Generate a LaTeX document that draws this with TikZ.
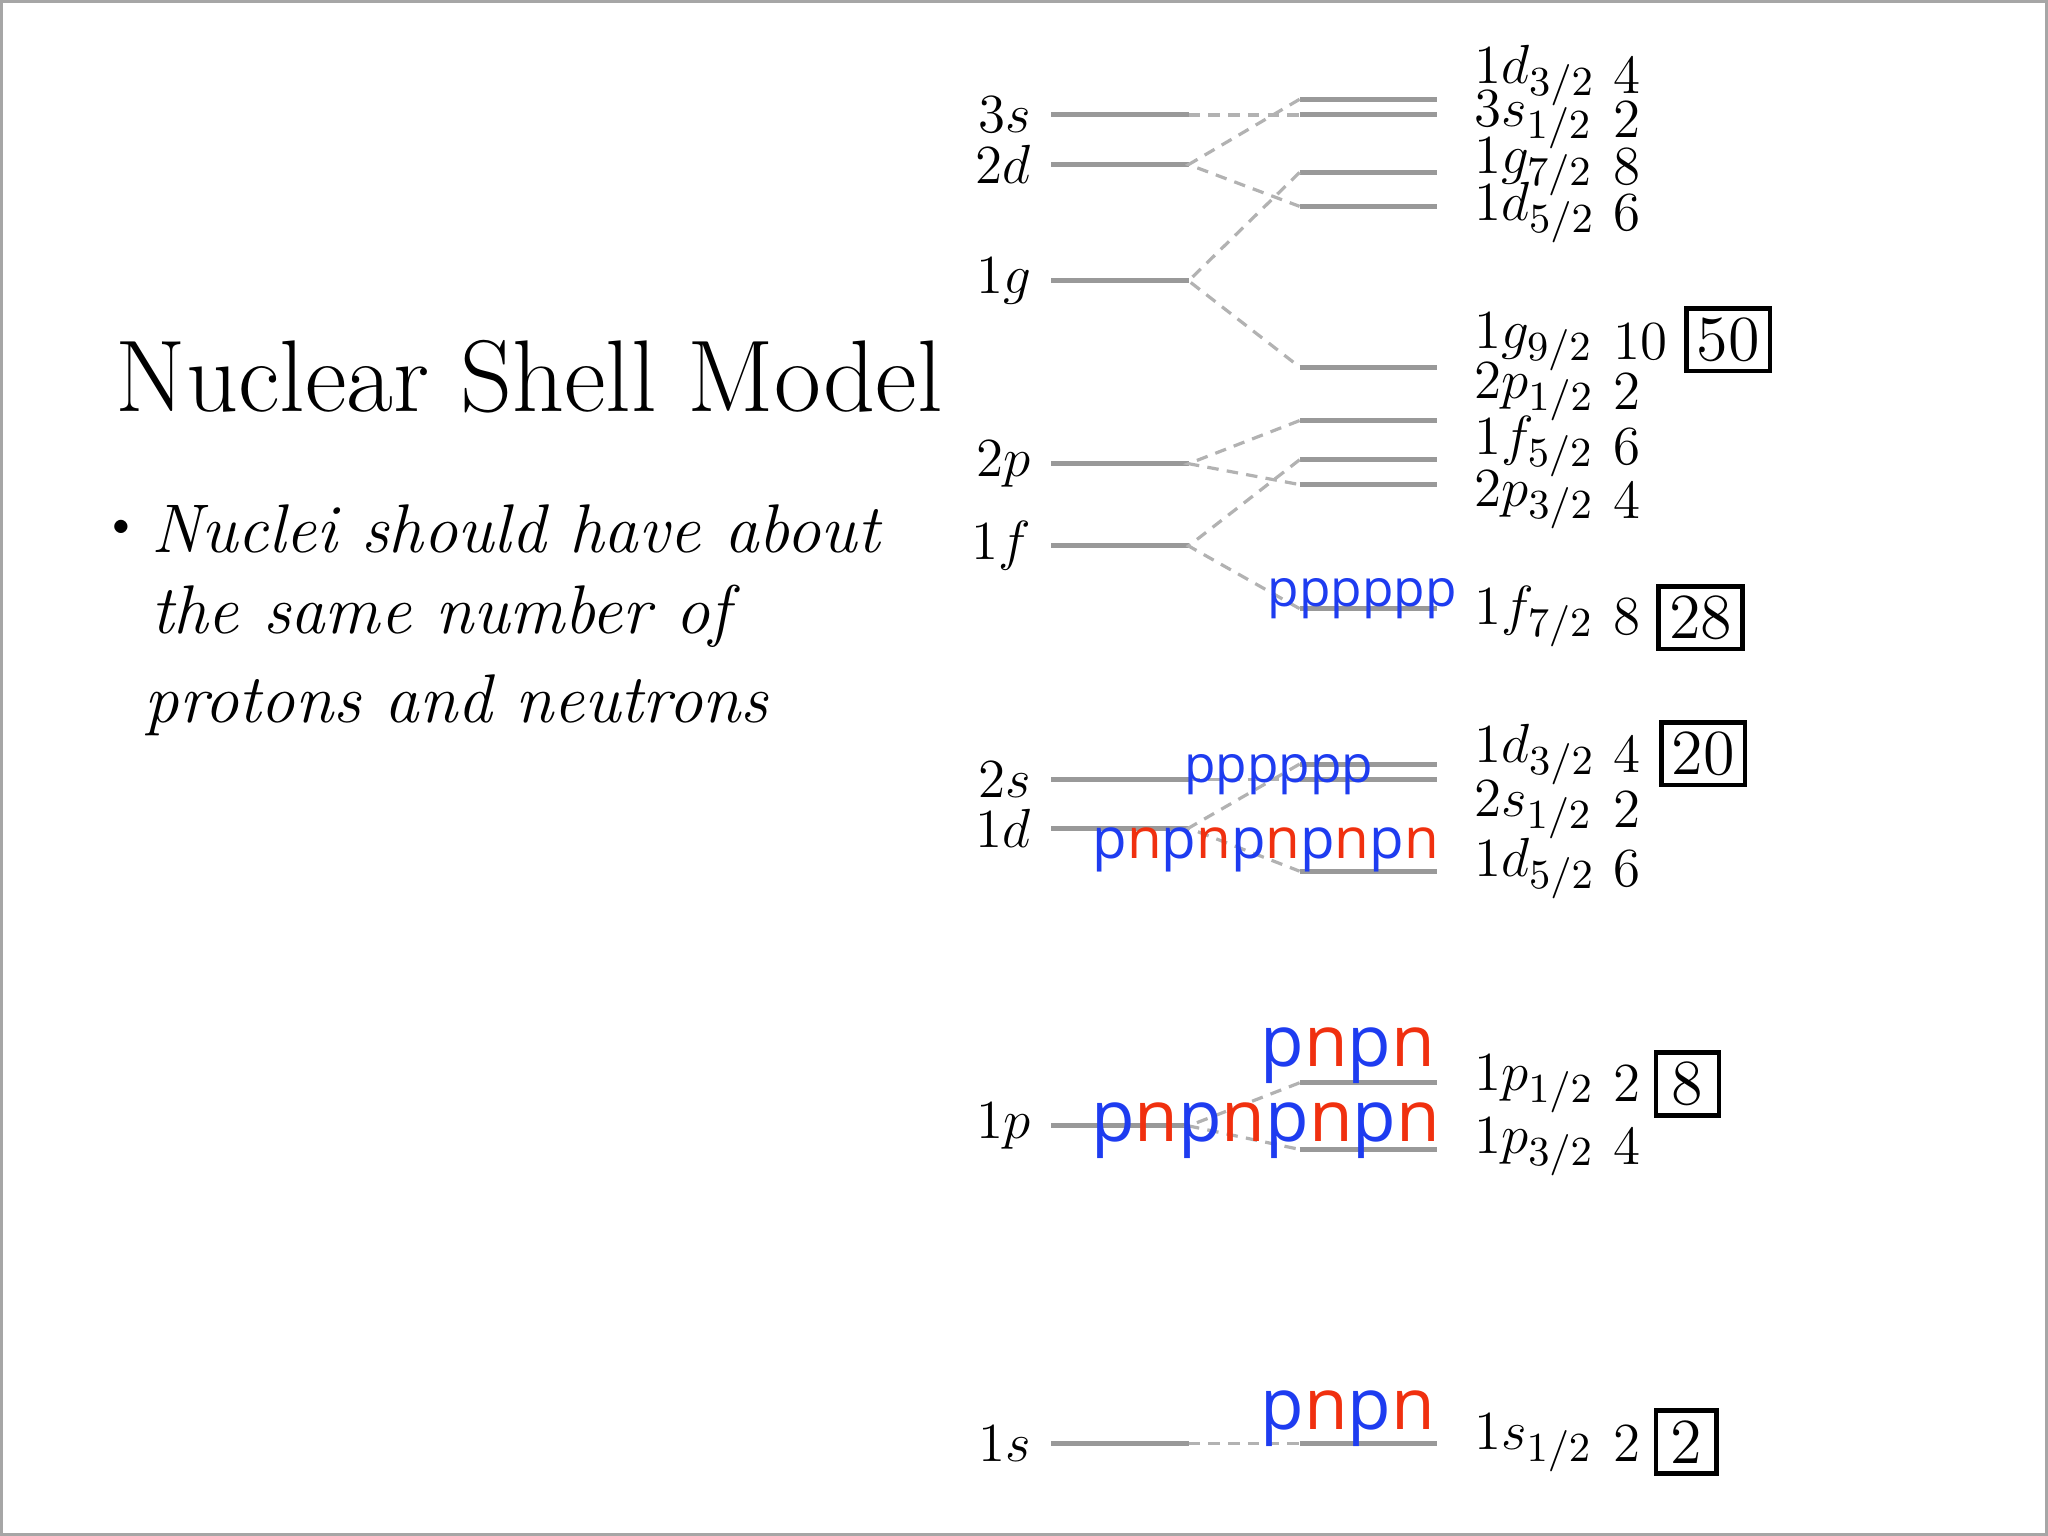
\documentclass[tikz,border=0pt]{standalone}
\usepackage{fontspec}
\newfontfamily\pnfont{Open Sans}
\definecolor{pblue}{HTML}{1E3CF0}
\definecolor{nred}{HTML}{F0300F}
\tikzset{
  level/.style={gray!80,line width=1.1pt},
  split/.style={gray!60,dash pattern=on 2.5pt off 1.8pt,line width=0.7pt},
  lvllabel/.style={font=\fontsize{12.8}{12.8}\selectfont,anchor=east,inner sep=0pt},
  jlabel/.style={font=\fontsize{12.5}{12.5}\selectfont,anchor=west,inner sep=0pt},
  magic/.style={draw,line width=1pt,font=\fontsize{14}{14}\selectfont,minimum width=6.4mm,minimum height=4.8mm,inner sep=2pt},
  nucl/.style={font=\pnfont,inner sep=0pt}
}
\newcommand{\Pp}{\textcolor{pblue}{p}}
\newcommand{\Nn}{\textcolor{nred}{n}}
\begin{document}
\begin{tikzpicture}[x=0.1mm,y=-0.1mm]
	\useasboundingbox (0,0) rectangle (1568,1176);
	\draw[gray!70,line width=0.8pt] (1,1) rectangle (1567,1175);
	% title and bullet
	\node[anchor=base west,inner sep=0pt,font=\fontsize{22.2}{22.2}\selectfont] (title) at (88,315) {Nuclear Shell Model};
	\node[anchor=center,inner sep=0pt] (dot) at (93,405) {\textbullet};
	\node[anchor=west,inner sep=0pt,font=\itshape\fontsize{15}{15}\selectfont,align=left] (txt1) at (115,405) {Nuclei should have about};
	\node[anchor=west,inner sep=0pt,font=\itshape\fontsize{15}{15}\selectfont] (txt2) at (115,472) {the same number of};
	\node[anchor=west,inner sep=0pt,font=\itshape\fontsize{15}{15}\selectfont] (txt3) at (110,540) {protons and neutrons};
	% oscillator levels
	\foreach \n/\y/\t in {s3/88/3s, d2/126/2d, g1/215/1g, p2/355/2p, f1/418/1f, s2/597/2s, d1/634/1d, p1/862/1p, s1/1105/1s}{
		\coordinate (\n a) at (805,\y);
		\coordinate (\n b) at (910,\y);
		\draw[level] (\n a) -- (\n b);
		\node[lvllabel] (\n t) at (790,\y) {$\t$};
	}
	% split levels
	\foreach \n/\y/\ly/\t/\g in {ds/76/58/1d_{3/2}/4, ss/88/92/3s_{1/2}/2, gs/132/128/1g_{7/2}/8, dss/158/163/1d_{5/2}/6,
		gn/281/262/1g_{9/2}/10, pa/322/300/2p_{1/2}/2, fs/352/342/1f_{5/2}/6, pb/371/383/2p_{3/2}/4, fn/466/472/1f_{7/2}/8,
		da/585/578/1d_{3/2}/4, sa/597/620/2s_{1/2}/2, db/667/665/1d_{5/2}/6, pc/829/830/1p_{1/2}/2, pd/880/878/1p_{3/2}/4, sb/1105/1105/1s_{1/2}/2}{
		\coordinate (\n a) at (995,\y);
		\coordinate (\n b) at (1100,\y);
		\draw[level] (\n a) -- (\n b);
		\node[jlabel] (\n t) at (1128,\ly) {$\t$};
		\node[jlabel] (\n g) at (1235,\ly) {$\g$};
	}
	% splitting
	\draw[split] (s3b) -- (ssa);
	\draw[split] (dsa) -- (d2b) -- (dssa);
	\draw[split] (gsa) -- (g1b) -- (gna);
	\draw[split] (paa) -- (p2b) -- (pba);
	\draw[split] (fsa) -- (f1b) -- (fna);
	\draw[split] (s2b) -- (saa);
	\draw[split] (daa) -- (d1b) -- (dba);
	\draw[split] (pca) -- (p1b) -- (pda);
	\draw[split] (s1b) -- (sba);
	% magic numbers
	\node[magic] (m50) at (1323,260) {50};
	\node[magic] (m28) at (1302,473) {28};
	\node[magic] (m20) at (1304,577) {20};
	\node[magic,minimum width=4.8mm] (m8) at (1292,830) {8};
	\node[magic,minimum width=4.6mm] (m2) at (1291,1104) {2};
	% nucleons
	\node[nucl,font=\pnfont\fontsize{11.2}{11.2}\selectfont] (fill1f) at (1043,458) {\Pp\Pp\Pp\Pp\Pp\Pp};
	\node[nucl,font=\pnfont\fontsize{11.2}{11.2}\selectfont] (fill2s) at (979,593) {\Pp\Pp\Pp\Pp\Pp\Pp};
	\node[nucl,font=\pnfont\fontsize{12.3}{12.3}\selectfont] (fill1d) at (969,651) {\Pp\Nn\Pp\Nn\Pp\Nn\Pp\Nn\Pp\Nn};
	\node[nucl,font=\pnfont\fontsize{15.5}{15.5}\selectfont] (fill1pa) at (1032,808) {\Pp\Nn\Pp\Nn};
	\node[nucl,font=\pnfont\fontsize{15.5}{15.5}\selectfont] (fill1pb) at (969,866) {\Pp\Nn\Pp\Nn\Pp\Nn\Pp\Nn};
	\node[nucl,font=\pnfont\fontsize{15.5}{15.5}\selectfont] (fill1s) at (1032,1086) {\Pp\Nn\Pp\Nn};
\end{tikzpicture}
\end{document}
